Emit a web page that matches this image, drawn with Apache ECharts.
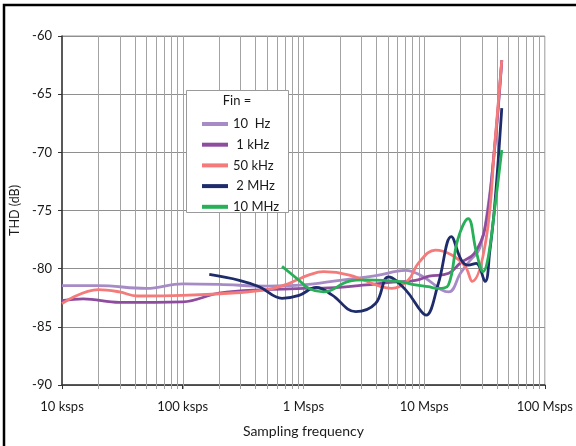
<!DOCTYPE html>
<html>
<head>
    <meta charset="utf-8">
    <script src="https://cdn.jsdelivr.net/npm/echarts@6/dist/echarts.min.js"></script>
    <style>
        body, html {
            margin: 0;
            height: 100%;
            background: #fff;
        }
        #main {
            width: 576px;
            height: 446px;
        }
    </style>
</head>
<body>
<div id="main"></div>

<script>
    // [sampling frequency (sps), THD (dB)] for each input frequency
    var thd10Hz = [[1e4, -81.45], [2e4, -81.45], [5e4, -81.7], [1e5, -81.3], [2e5, -81.35], [5e5, -81.5],
        [1e6, -81.4], [2e6, -81.0], [4e6, -80.6], [7e6, -80.15], [9.5e6, -80.6], [16e6, -82.0],
        [20e6, -80.4], [24e6, -79.3], [29e6, -78.2], [34e6, -74.5], [39e6, -69], [44e6, -62.1]];
    var thd1kHz = [[1e4, -82.75], [1.5e4, -82.6], [3e4, -82.9], [1e5, -82.85], [2e5, -82.1], [5e5, -81.8],
        [1e6, -81.7], [2e6, -81.6], [3.3e6, -81.4], [5e6, -81.2], [8.5e6, -81.0], [11e6, -80.65],
        [16e6, -80.4], [20e6, -79.5], [26e6, -78.7], [32e6, -76.5], [38e6, -70], [44e6, -62.1]];
    var thd50kHz = [[1e4, -83.0], [2e4, -81.8], [3e4, -82.0], [4.2e4, -82.35], [1e5, -82.3], [3e5, -82.05],
        [5e5, -81.8], [7e5, -81.4], [8.7e5, -81.0], [1.1e6, -80.55], [1.47e6, -80.26], [2.4e6, -80.55],
        [4.4e6, -81.55], [5.4e6, -81.7], [7.4e6, -80.97], [9e6, -79.5], [12.4e6, -78.4], [16.8e6, -78.8],
        [21.9e6, -79.8], [25e6, -81.1], [32.6e6, -77.5], [38.7e6, -69], [44e6, -62.1]];
    var thd2MHz = [[1.66e5, -80.5], [2.94e5, -81.0], [4.3e5, -81.55], [6.65e5, -82.55], [9.2e5, -82.3],
        [1.28e6, -81.6], [1.72e6, -82.25], [2.71e6, -83.7], [3.96e6, -83.0], [5.07e6, -80.7], [7.0e6, -81.8],
        [9.5e6, -83.7], [10.4e6, -84.0], [13.1e6, -81.3], [16.8e6, -77.25], [20.3e6, -79.25], [23.2e6, -79.7],
        [27e6, -79.55], [32e6, -81.1], [35e6, -78.5], [38.5e6, -74.5], [44e6, -66.2]];
    var thd10MHz = [[6.65e5, -79.8], [9.2e5, -81.0], [1.11e6, -81.7], [1.47e6, -82.0], [2.37e6, -81.1],
        [3.27e6, -80.97], [6.13e6, -81.1], [8.47e6, -81.4], [10.8e6, -81.55], [13.1e6, -81.7], [15.9e6, -81.4],
        [19e6, -77.5], [23.2e6, -75.7], [27e6, -78.5], [30.8e6, -80.25], [34e6, -79], [38.5e6, -74.8], [44e6, -69.8]];

    var seriesNames = ['10  Hz', ' 1 kHz', '50 kHz', ' 2 MHz', '10 MHz'];
    var seriesData = [thd10Hz, thd1kHz, thd50kHz, thd2MHz, thd10MHz];
    var seriesColors = ['#a68bc6', '#8e4c9e', '#f57a7a', '#1f2c6b', '#27b058'];

    var tickValues = [1e4, 1e5, 1e6, 1e7, 1e8];
    var tickLabels = ['10 ksps', '100 ksps', '1 Msps', '10 Msps', '100 Msps'];

    // vertical grid lines of the log axis (decades and 2..9 in between)
    var decades = [1e4, 1e5, 1e6, 1e7];
    var steps = [1, 2, 3, 4, 5, 6, 7, 8, 9];
    var gridValues = [];
    decades.forEach(function (d, i) {
        steps.forEach(function (s) {
            if (i > 0 || s > 1) gridValues.push([d * s, -90]);
        });
    });

    var font = 'Lato';
    var myChart = echarts.init(document.getElementById('main'));

    var series = seriesNames.map(function (name, i) {
        return {
            name: name,
            type: 'line',
            data: seriesData[i],
            smooth: 0.4,
            showSymbol: false,
            z: 3 + i,
            lineStyle: {color: seriesColors[i], width: 2.8},
            itemStyle: {color: seriesColors[i]}
        };
    });

    series.unshift({
        type: 'custom',
        silent: true,
        z: 1,
        data: gridValues,
        encode: {x: 0, y: 1},
        renderItem: function (params, api) {
            var top = api.coord([api.value(0), -60]);
            var bot = api.coord([api.value(0), -90]);
            var x = Math.round(top[0]) + 0.5;
            return {
                type: 'line',
                shape: {x1: x, y1: top[1], x2: x, y2: bot[1] + 4},
                style: {stroke: '#a3a3a3', lineWidth: 1}
            };
        }
    });

    option = {
        animation: false,
        grid: {
            left: 62,
            right: 29,
            top: 36,
            bottom: 61,
            show: true,
            borderColor: '#999',
            borderWidth: 1
        },
        legend: {
            data: seriesNames,
            orient: 'vertical',
            left: 197,
            top: 112,
            z: 102,
            icon: 'rect',
            itemWidth: 26,
            itemHeight: 4,
            itemGap: 6.7,
            textStyle: {fontFamily: font, fontSize: 13, color: '#1a1a1a', lineHeight: 14}
        },
        xAxis: {
            type: 'log',
            logBase: 10,
            min: 1e4,
            max: 1e8,
            name: 'Sampling frequency',
            nameLocation: 'middle',
            nameGap: 39,
            nameTextStyle: {fontFamily: font, fontSize: 14, color: '#1a1a1a'},
            axisLine: {lineStyle: {color: '#333', width: 1.5}},
            axisTick: {show: true, length: 4, lineStyle: {color: '#333'}},
            axisLabel: {
                margin: 15,
                fontFamily: font,
                fontSize: 13,
                color: '#1a1a1a',
                formatter: function (v) {
                    for (var i = 0; i < tickValues.length; i++) {
                        if (Math.abs(Math.log10(v) - Math.log10(tickValues[i])) < 0.01) return tickLabels[i];
                    }
                    return '';
                }
            },
            splitLine: {show: false},
            minorTick: {show: false}
        },
        yAxis: {
            type: 'value',
            min: -90,
            max: -60,
            interval: 5,
            name: 'THD (dB)',
            nameLocation: 'middle',
            nameGap: 34,
            nameTextStyle: {fontFamily: font, fontSize: 12.5, color: '#1a1a1a'},
            axisLine: {show: true, lineStyle: {color: '#333', width: 1.5}},
            axisTick: {show: true, length: 4, lineStyle: {color: '#333'}},
            axisLabel: {margin: 10, fontFamily: font, fontSize: 13, color: '#1a1a1a'},
            splitLine: {show: true, lineStyle: {color: '#8f8f8f', width: 1}}
        },
        graphic: [
            {
                type: 'rect',
                z: 100,
                shape: {x: 186.5, y: 90.5, width: 102, height: 122},
                style: {fill: '#fff', stroke: '#9a9a9a', lineWidth: 1}
            },
            {
                type: 'text',
                z: 101,
                x: 237,
                y: 101,
                style: {
                    text: 'Fin =',
                    fontFamily: font,
                    fontSize: 13,
                    fill: '#1a1a1a',
                    align: 'center',
                    verticalAlign: 'middle'
                }
            },
            {
                type: 'rect',
                z: 100,
                shape: {x: 4, y: 5, width: 700, height: 600},
                style: {fill: 'none', stroke: '#000', lineWidth: 2.5}
            }
        ],
        series: series
    };

    myChart.setOption(option);
</script>
</body>
</html>
